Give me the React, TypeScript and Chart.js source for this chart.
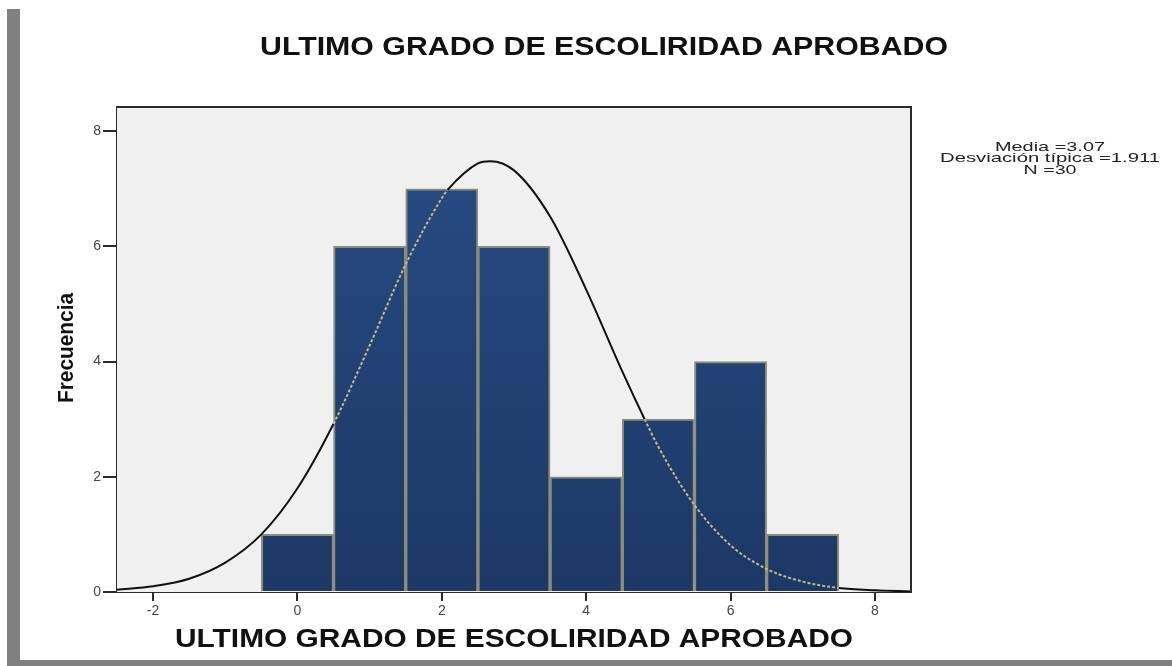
import React, { useEffect, useRef } from "react";
import { Chart, registerables } from "chart.js";

Chart.register(...registerables);

const titleText = "ULTIMO GRADO DE ESCOLIRIDAD APROBADO";
const xAxisTitle = "ULTIMO GRADO DE ESCOLIRIDAD APROBADO";
const yAxisTitle = "Frecuencia";
const statsLines = ["Media =3.07", "Desviación típica =1.911", "N =30"];

const bins = [0, 1, 2, 3, 4, 5, 6, 7];
const freqs = [1, 6, 7, 6, 2, 3, 4, 1];

const curveX = [-2.5, -2, -1.5, -1, -0.5, 0, 0.5, 1, 1.5, 2, 2.08, 2.5, 2.67, 3, 3.5, 4, 4.5, 4.81, 5, 5.5, 6, 6.5, 7, 7.5, 8, 8.5];
const curveY = [0.04, 0.1, 0.23, 0.51, 1.0, 1.8, 2.92, 4.28, 5.69, 6.84, 6.98, 7.44, 7.48, 7.32, 6.52, 5.25, 3.83, 3.0, 2.52, 1.51, 0.81, 0.4, 0.18, 0.07, 0.03, 0.01];

const xTickValues = [-2, 0, 2, 4, 6, 8];
const yTickValues = [0, 2, 4, 6, 8];

function insideBars(x: number, y: number) {
  const i = bins.indexOf(Math.round(x));
  if (i < 0) return false;
  return y < freqs[i];
}

function drawFitted(ctx: CanvasRenderingContext2D, text: string, cx: number, cy: number, width: number, font: string, rotate = 0) {
  ctx.save();
  ctx.font = font;
  const w = ctx.measureText(text).width;
  ctx.translate(cx, cy);
  if (rotate) ctx.rotate(rotate);
  ctx.scale(width / w, 1);
  ctx.textAlign = "center";
  ctx.textBaseline = "middle";
  ctx.fillText(text, 0, 0);
  ctx.restore();
}

const statsWidths = [110, 220, 53];

const decorPlugin = {
  id: "decor",
  beforeDatasetsDraw(chart: any) {
    const { ctx, chartArea: a } = chart;
    ctx.save();
    ctx.fillStyle = "#f0f0f0";
    ctx.fillRect(a.left, a.top, a.right - a.left, a.bottom - a.top);
    ctx.restore();
  },
  afterDraw(chart: any) {
    const { ctx, chartArea: a } = chart;
    ctx.save();
    ctx.strokeStyle = "#2a2a2a";
    ctx.lineWidth = 2;
    ctx.beginPath();
    ctx.moveTo(a.left, a.top);
    ctx.lineTo(a.right, a.top);
    ctx.lineTo(a.right, a.bottom);
    ctx.stroke();
    ctx.fillStyle = "#111";
    drawFitted(ctx, titleText, 604, 48, 688, "bold 25px 'Liberation Sans', Arial, sans-serif");
    drawFitted(ctx, xAxisTitle, 514, 640, 678, "bold 25px 'Liberation Sans', Arial, sans-serif");
    drawFitted(ctx, yAxisTitle, 67, 348, 110, "bold 22px 'Liberation Sans Narrow', 'Liberation Sans', Arial, sans-serif", -Math.PI / 2);
    ctx.fillStyle = "#222";
    statsLines.forEach((l, i) =>
      drawFitted(ctx, l, 1050, 147 + i * 11.5, statsWidths[i], "13px 'Liberation Sans', Arial, sans-serif")
    );
    ctx.restore();
  },
};

export default function App() {
  const ref = useRef<HTMLCanvasElement>(null);
  useEffect(() => {
    if (!ref.current) return;
    const chart = new Chart(ref.current, {
      type: "bar",
      data: {
        datasets: [
          {
            type: "line",
            data: curveX.map((x, i) => ({ x, y: curveY[i] })),
            borderColor: "#111",
            borderWidth: 2,
            pointRadius: 0,
            cubicInterpolationMode: "monotone",
            order: 0,
            segment: {
              borderColor: (c: any) => {
                const mx = (c.p0.parsed.x + c.p1.parsed.x) / 2;
                const my = (c.p0.parsed.y + c.p1.parsed.y) / 2;
                return insideBars(mx, my) ? "#c2bd78" : "#111";
              },
              borderDash: (c: any) => {
                const mx = (c.p0.parsed.x + c.p1.parsed.x) / 2;
                const my = (c.p0.parsed.y + c.p1.parsed.y) / 2;
                return insideBars(mx, my) ? [3, 2] : [];
              },
            },
          } as any,
          {
            type: "bar",
            data: bins.map((x, i) => ({ x, y: freqs[i] })),
            backgroundColor: (c: any) => {
              const area = c.chart.chartArea;
              if (!area) return "#1f3b6b";
              const g = c.chart.ctx.createLinearGradient(0, area.top, 0, area.bottom);
              g.addColorStop(0, "#284d86");
              g.addColorStop(1, "#1c3866");
              return g;
            },
            borderColor: "#8f8e74",
            borderWidth: 2,
            barPercentage: 1,
            categoryPercentage: 1,
            order: 1,
          } as any,
        ],
      },
      options: {
        animation: false,
        responsive: false,
        layout: { padding: { left: 0, top: 107, right: 261, bottom: 0 } },
        plugins: { legend: { display: false }, tooltip: { enabled: false } },
        scales: {
          x: {
            type: "linear",
            min: -2.5,
            max: 8.5,
            offset: false,
            afterBuildTicks: (s: any) => { s.ticks = xTickValues.map((v) => ({ value: v })); },
            afterFit: (s: any) => { s.height = 74; },
            grid: { offset: false, drawOnChartArea: false, drawTicks: true, tickLength: 9, color: "#2a2a2a", lineWidth: 2 },
            border: { display: true, color: "#2a2a2a", width: 2 },
            ticks: { color: "#444", font: { size: 14, family: "'Liberation Sans', Arial, sans-serif" }, padding: 2, maxRotation: 0 },
          },
          y: {
            min: 0,
            max: 8.42,
            afterBuildTicks: (s: any) => { s.ticks = yTickValues.map((v) => ({ value: v })); },
            afterFit: (s: any) => { s.width = 117; },
            grid: { drawOnChartArea: false, drawTicks: true, tickLength: 14, color: "#2a2a2a", lineWidth: 2 },
            border: { display: true, color: "#2a2a2a", width: 2 },
            ticks: { color: "#444", font: { size: 14, family: "'Liberation Sans', Arial, sans-serif" }, padding: 2 },
          },
        },
      },
      plugins: [decorPlugin],
    } as any);
    return () => chart.destroy();
  }, []);
  return (
    <div style={{ position: "fixed", left: 0, top: 0, width: 1172, height: 666, background: "#fff" }}>
      <canvas ref={ref} width={1172} height={666} style={{ position: "absolute", left: 0, top: 0 }} />
      <div style={{ position: "absolute", left: 7, top: 9, width: 13, height: 657, background: "#808080" }} />
      <div style={{ position: "absolute", left: 7, top: 660, width: 1165, height: 6, background: "#808080" }} />
    </div>
  );
}
